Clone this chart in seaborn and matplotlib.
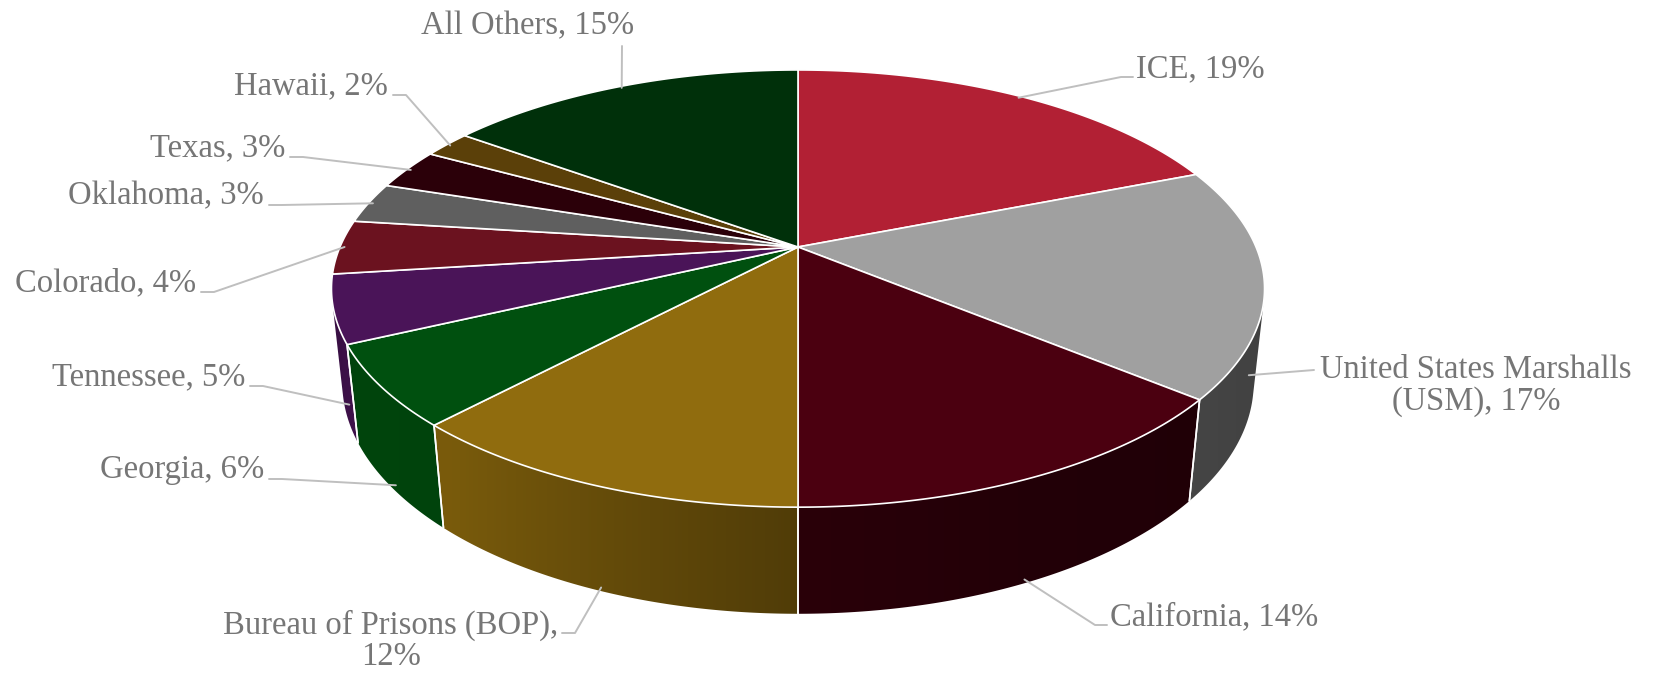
import numpy as np
import matplotlib
matplotlib.use("Agg")
import matplotlib.pyplot as plt
import seaborn as sns
from matplotlib.patches import Polygon

# data
names = ["ICE", "United States Marshalls\n(USM)", "California", "Bureau of Prisons (BOP)",
         "Georgia", "Tennessee", "Colorado", "Oklahoma", "Texas", "Hawaii", "All Others"]
shares = [19, 17, 14, 12, 6, 5, 4, 3, 3, 2, 15]
seps = [", ", ", ", ", ", ",\n", ", ", ", ", ", ", ", ", ", ", ", ", ", "]
hex_colors = ["#B22034", "#A0A0A0", "#4B0010", "#906C0E", "#00500F", "#4A1458",
              "#6B121F", "#5F5F5F", "#2B0009", "#5B4009", "#00300A"]

# label placement (pixels), x, y, ha
label_pos = [(1136, 69, "left"), (1476, 386, "center"), (1110, 617, "left"),
             (391, 641, "center"), (264, 470, "right"), (245, 377, "right"),
             (196, 283, "right"), (264, 196, "right"), (285, 148, "right"),
             (388, 86, "right"), (528, 26, "center")]

sns.set_style("white")
plt.rcParams['font.family'] = ['Liberation Serif', 'DejaVu Serif']
palette = sns.color_palette(hex_colors)

# perspective camera for the tilted pie (pixel space)
cx, cy, foc = 798, 247, 2139
s_e, c_e, dist, depth_h = 0.46, 0.888, 4.67, 0.233


def proj(t, z, r=1.0):
    x = r * np.cos(t)
    y = r * np.sin(t)
    dep = dist + y * c_e - z * s_e
    return cx + foc * x / dep, cy - foc * (y * s_e + z * c_e) / dep


def side_shade(tdeg):
    return np.interp(tdeg, [194, 210, 230, 270, 295, 346],
                     [0.72, 0.86, 0.84, 0.56, 0.46, 0.40])


fig = plt.figure(figsize=(16.54, 6.74), dpi=100)
ax = fig.add_axes([0, 0, 1, 1])
ax.set_xlim(0, 1654)
ax.set_ylim(674, 0)
ax.axis("off")

cum = np.concatenate([[0], np.cumsum(shares)]) / sum(shares)
t_start = np.deg2rad(90 - 360 * cum[:-1])
t_end = np.deg2rad(90 - 360 * cum[1:])

# screen x -> angle on the front rim, for the gradient
vis_lo, vis_hi = np.deg2rad(194), np.deg2rad(346)
t_samp = np.linspace(vis_lo, vis_hi, 600)
x_samp = proj(t_samp, 0)[0]

# outer side walls (front half only), shaded left to right
for i in range(len(shares)):
    a0, a1 = t_end[i] % (2 * np.pi), t_start[i] % (2 * np.pi)
    if a1 <= a0:
        a1 += 2 * np.pi
    lo, hi = max(a0, vis_lo), min(a1, vis_hi)
    if hi <= lo:
        continue
    ts = np.linspace(lo, hi, 120)
    top = [proj(t, 0) for t in ts]
    bot = [proj(t, -depth_h) for t in ts[::-1]]
    pts = np.array(top + bot)
    base = np.array(palette[i])
    x0, x1 = pts[:, 0].min() - 2, pts[:, 0].max() + 2
    y0, y1 = pts[:, 1].min() - 2, pts[:, 1].max() + 2
    xc = np.linspace(x0, x1, 300)
    tc = np.rad2deg(np.interp(xc, x_samp, t_samp))
    row = np.clip(base[None, :] * side_shade(tc)[:, None], 0, 1)
    img = np.repeat(row[None, :, :], 2, axis=0)
    poly = Polygon(pts, closed=True, facecolor="none", edgecolor="none")
    ax.add_patch(poly)
    im = ax.imshow(img, extent=[x0, x1, y1, y0], aspect="auto", interpolation="bilinear", zorder=2)
    im.set_clip_path(poly)
    for tb in (a0, a1):
        if vis_lo < tb < vis_hi:
            xs, ys = zip(proj(tb, 0), proj(tb, -depth_h))
            ax.plot(xs, ys, color="white", lw=1.2, zorder=3)

ax.set_xlim(0, 1654)
ax.set_ylim(674, 0)

# top face
for i in range(len(shares)):
    ts = np.linspace(t_start[i], t_end[i], 200)
    pts = [proj(0, 0, 0)] + [proj(t, 0) for t in ts]
    ax.add_patch(Polygon(pts, closed=True, facecolor=palette[i], edgecolor="white",
                         lw=1.2, joinstyle="round", zorder=4))

# labels and leader lines
for i, name in enumerate(names):
    lx, ly, ha = label_pos[i]
    ax.text(lx, ly, f"{name}{seps[i]}{shares[i]}%", ha=ha, va="center",
            multialignment="center", fontsize=23.5, color="#767676", linespacing=1.05, zorder=6)
    tm = (t_start[i] + t_end[i]) / 2
    z = -depth_h if np.sin(tm) < -0.05 else 0
    axp, ayp = proj(tm, z, 0.99)
    if i == 10:
        px, py = [lx + 94, lx + 94, axp], [ly + 20, ly + 20, ayp]
    elif ha == "right":
        px, py = [lx + 5, lx + 18, axp], [ly + 9, ly + 9, ayp]
    elif i == 1:
        px, py = [lx - 162, lx - 162, axp], [ly - 16, ly - 16, ayp]
    elif i == 3:
        px, py = [lx + 171, lx + 184, axp], [ly - 8, ly - 8, ayp]
    else:
        px, py = [lx - 3, lx - 15, axp], [ly + 8, ly + 8, ayp]
    ax.plot(px, py, color="#BFBFBF", lw=1.4, zorder=5)

fig.savefig("out.png", dpi=100, facecolor="white")
